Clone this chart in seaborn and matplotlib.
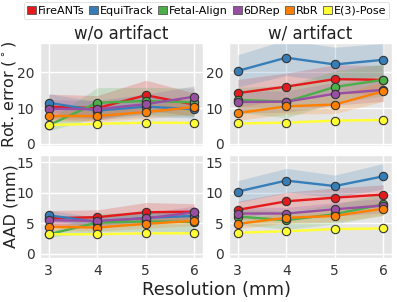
import numpy as np
import pandas as pd
import matplotlib
matplotlib.use("Agg")
import matplotlib.pyplot as plt
from matplotlib.patches import Patch
import seaborn as sns

methods = ["FireANTs", "EquiTrack", "Fetal-Align", "6DRep", "RbR", "E(3)-Pose"]
colors = ["#e41a1c", "#377eb8", "#4daf4a", "#984ea3", "#ff7f00", "#ffff33"]
resolutions = [3, 4, 5, 6]

# Rotation error, without artifact (mean, std)
rot_wo = {
    "FireANTs":    [10.4, 10.0, 13.6, 11.0],
    "EquiTrack":   [11.5, 9.3, 10.4, 9.7],
    "Fetal-Align": [5.2, 11.5, 12.0, 11.6],
    "6DRep":       [9.8, 9.7, 11.1, 13.2],
    "RbR":         [7.8, 7.8, 8.9, 10.3],
    "E(3)-Pose":   [5.3, 5.6, 5.95, 5.85],
}
rot_wo_sd = {
    "FireANTs":    [3.5, 3.5, 4.2, 3.2],
    "EquiTrack":   [2.5, 2.5, 2.8, 2.5],
    "Fetal-Align": [1.5, 4.2, 3.8, 4.0],
    "6DRep":       [2.5, 2.5, 2.8, 3.0],
    "RbR":         [1.5, 1.5, 1.8, 2.0],
    "E(3)-Pose":   [0.3, 0.3, 0.3, 0.3],
}
# Rotation error, with artifact
rot_w = {
    "FireANTs":    [14.2, 16.0, 18.1, 17.9],
    "EquiTrack":   [20.4, 24.1, 22.2, 23.5],
    "Fetal-Align": [12.3, 11.8, 15.9, 17.9],
    "6DRep":       [11.7, 11.8, 14.0, 15.1],
    "RbR":         [8.6, 10.5, 11.0, 14.7],
    "E(3)-Pose":   [5.7, 5.95, 6.5, 6.7],
}
rot_w_sd = {
    "FireANTs":    [3.8, 3.8, 4.0, 4.0],
    "EquiTrack":   [4.5, 5.0, 4.8, 4.6],
    "Fetal-Align": [3.5, 4.5, 4.5, 4.5],
    "6DRep":       [3.0, 3.0, 3.2, 3.2],
    "RbR":         [2.0, 2.2, 2.5, 2.8],
    "E(3)-Pose":   [0.3, 0.3, 0.3, 0.3],
}
# AAD, without artifact
aad_wo = {
    "FireANTs":    [5.8, 6.0, 6.8, 6.9],
    "EquiTrack":   [6.3, 5.2, 5.9, 6.2],
    "Fetal-Align": [3.2, 5.1, 5.3, 5.2],
    "6DRep":       [5.5, 5.4, 5.8, 6.8],
    "RbR":         [4.4, 4.3, 4.9, 5.4],
    "E(3)-Pose":   [3.2, 3.2, 3.35, 3.35],
}
aad_wo_sd = {
    "FireANTs":    [1.3, 1.2, 1.6, 1.3],
    "EquiTrack":   [0.8, 0.8, 0.9, 0.8],
    "Fetal-Align": [0.5, 1.5, 1.6, 1.6],
    "6DRep":       [0.8, 0.8, 0.9, 1.0],
    "RbR":         [0.6, 0.6, 0.7, 0.8],
    "E(3)-Pose":   [0.1, 0.1, 0.1, 0.1],
}
# AAD, with artifact
aad_w = {
    "FireANTs":    [7.2, 8.6, 9.2, 9.7],
    "EquiTrack":   [10.2, 12.0, 11.1, 12.7],
    "Fetal-Align": [6.1, 5.5, 6.5, 8.1],
    "6DRep":       [6.6, 6.6, 7.3, 7.9],
    "RbR":         [4.9, 5.9, 6.2, 7.4],
    "E(3)-Pose":   [3.45, 3.7, 4.05, 4.15],
}
aad_w_sd = {
    "FireANTs":    [1.4, 1.5, 1.6, 1.6],
    "EquiTrack":   [1.8, 2.0, 1.8, 2.1],
    "Fetal-Align": [1.3, 1.5, 1.6, 1.8],
    "6DRep":       [1.0, 1.0, 1.1, 1.2],
    "RbR":         [0.8, 0.9, 1.0, 1.1],
    "E(3)-Pose":   [0.15, 0.15, 0.15, 0.15],
}

plt.style.use("ggplot")
sns.set_palette(colors)
plt.rcParams["font.family"] = ["DejaVu Sans"]

fig, axes = plt.subplots(2, 2, figsize=(3.97, 3.02), dpi=100)
fig.patch.set_facecolor("white")
fig.subplots_adjust(left=40/397, right=392/397, top=1-43/302, bottom=1-258/302,
                    wspace=0.16, hspace=0.087)

panels = [
    (axes[0, 0], rot_wo, rot_wo_sd),
    (axes[0, 1], rot_w, rot_w_sd),
    (axes[1, 0], aad_wo, aad_wo_sd),
    (axes[1, 1], aad_w, aad_w_sd),
]

for ax, means, sds in panels:
    rows = []
    for m in methods:
        for r, v in zip(resolutions, means[m]):
            rows.append({"Resolution": r, "value": v, "method": m})
    df = pd.DataFrame(rows)
    for m, c in zip(methods, colors):
        mu = np.array(means[m])
        sd = np.array(sds[m])
        ax.fill_between(resolutions, mu - sd, mu + sd, color=c, alpha=0.2, lw=0)
    sns.lineplot(data=df, x="Resolution", y="value", hue="method",
                 hue_order=methods, palette=colors, marker="o",
                 markersize=6, markeredgecolor="#333333", markeredgewidth=0.8,
                 linewidth=1.7, ax=ax, legend=False)
    ax.set_facecolor("#e5e5e5")
    ax.grid(True, color="white", linewidth=1)
    ax.set_xlim(2.82, 6.18)
    ax.set_xticks(resolutions)
    ax.tick_params(axis="both", labelsize=10, colors="#333333", length=0, pad=4)
    ax.set_xlabel("")
    ax.set_ylabel("")

for ax in axes[0]:
    ax.set_ylim(-0.6, 28.2)
    ax.set_yticks([0, 10, 20])
    ax.set_xticklabels([])
for ax in axes[1]:
    ax.set_ylim(-0.7, 16.2)
    ax.set_yticks([0, 5, 10, 15])

axes[0, 0].set_title("w/o artifact", fontsize=12, color="#222222", pad=3)
axes[0, 1].set_title("w/ artifact", fontsize=12, color="#222222", pad=3)
axes[0, 0].set_ylabel("Rot. error ($^\\circ$)", fontsize=11.5, color="#222222")
axes[1, 0].set_ylabel("AAD (mm)", fontsize=11.5, color="#222222")
axes[0, 0].yaxis.set_label_coords(-0.135, 0.5)
axes[1, 0].yaxis.set_label_coords(-0.135, 0.5)
fig.text((40 + 392) / 2 / 397, 0.01, "Resolution (mm)", ha="center", va="bottom",
         fontsize=13, color="#222222")

handles = [Patch(facecolor=c, edgecolor="#555555", linewidth=0.6, label=m)
           for m, c in zip(methods, colors)]
fig.legend(handles=handles, loc="upper center", bbox_to_anchor=(0.52, 1.0), ncol=6,
           fontsize=8, handlelength=0.8, handleheight=0.8, handletextpad=0.15,
           columnspacing=0.45, borderpad=0.3, frameon=True, facecolor="white",
           edgecolor="#cccccc", borderaxespad=0.2)

fig.savefig("out.png", dpi=100, facecolor="white")
